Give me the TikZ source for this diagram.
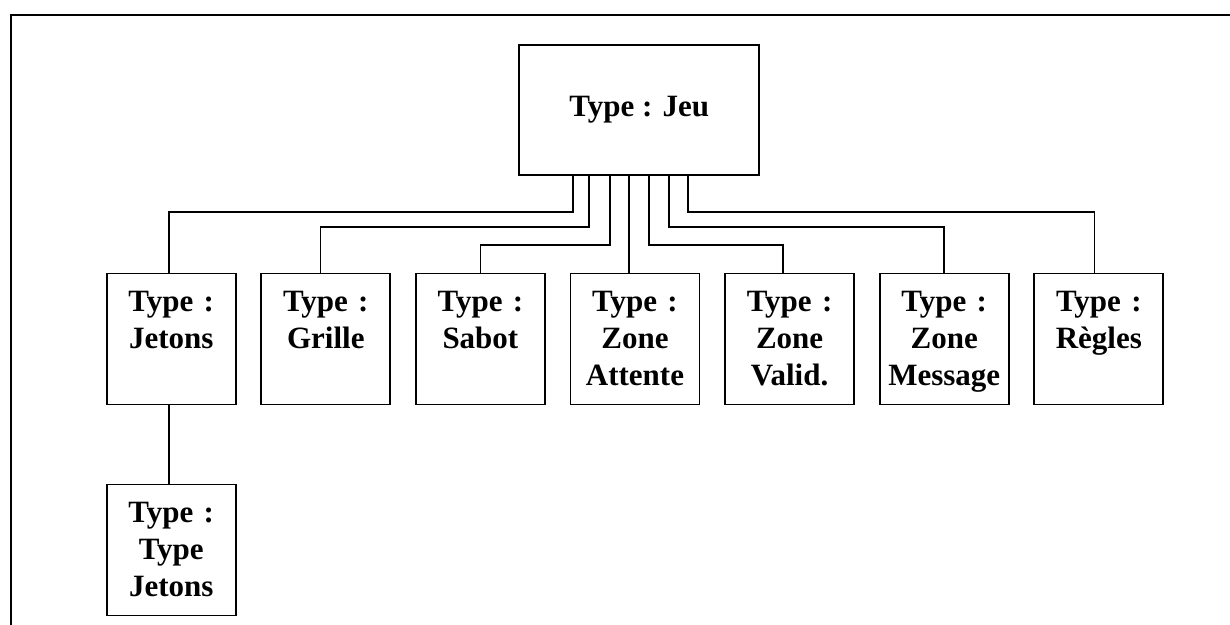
\documentclass[tikz,border=0pt]{standalone}
\usepackage{fontspec}
\setmainfont{Liberation Serif}
\usetikzlibrary{positioning}

\begin{document}
\begin{tikzpicture}[x=0.5pt,y=-0.5pt,node distance=12.8pt]
  \tikzstyle{typebox}=[draw,line width=0.9pt,inner sep=0pt,outer sep=0pt,
    text width=64.5pt,align=center,text height=19pt,text depth=46.5pt,
    font=\fontsize{15.5}{18.5}\selectfont\bfseries]
  \tikzstyle{rootbox}=[draw,line width=0.9pt,inner sep=0pt,outer sep=0pt,
    minimum width=120pt,minimum height=65pt,font=\fontsize{15.5}{18.5}\selectfont\bfseries]
  \tikzstyle{link}=[line width=0.9pt]
  \useasboundingbox (0,0) rectangle (1230,625);
  % cadre
  \draw[line width=1.2pt] (11,625) -- (11,15) -- (1230,15);
  \node[rootbox] (jeu) at (639.3,110) {Type : Jeu};
  \node[typebox] (jetons) at (171.2,339) {Type :\\Jetons};
  \node[typebox,right=of jetons] (grille) {Type :\\Grille};
  \node[typebox,right=of grille] (sabot) {Type :\\Sabot};
  \node[typebox,right=of sabot] (attente) {Type :\\Zone\\Attente};
  \node[typebox,right=of attente] (valid) {Type :\\Zone\\Valid.};
  \node[typebox,right=of valid] (message) {Type :\\Zone\\Message};
  \node[typebox,right=of message] (regles) {Type :\\Règles};
  \node[typebox,below=40pt of jetons] (typejetons) {Type :\\Type\\Jetons};
  % liens
  \draw[link] ([xshift=-33.3pt]jeu.south) -- ++(0,36.7) -| ([xshift=-1pt]jetons.north);
  \draw[link] ([xshift=-25.2pt]jeu.south) -- ++(0,52.3) -| ([xshift=-2.7pt]grille.north);
  \draw[link] ([xshift=-14.7pt]jeu.south) -- ++(0,70) -| (sabot.north);
  \draw[link] ([xshift=-5pt]jeu.south) -- ([xshift=-5pt]jeu.south |- attente.north);
  \draw[link] ([xshift=5pt]jeu.south) -- ++(0,70) -| ([xshift=-3.4pt]valid.north);
  \draw[link] ([xshift=15pt]jeu.south) -- ++(0,52.3) -| (message.north);
  \draw[link] ([xshift=24.2pt]jeu.south) -- ++(0,36.7) -| ([xshift=-2.2pt]regles.north);
  \draw[link] ([xshift=-1pt]jetons.south) -- ([xshift=-1pt]typejetons.north);
\end{tikzpicture}
\end{document}
